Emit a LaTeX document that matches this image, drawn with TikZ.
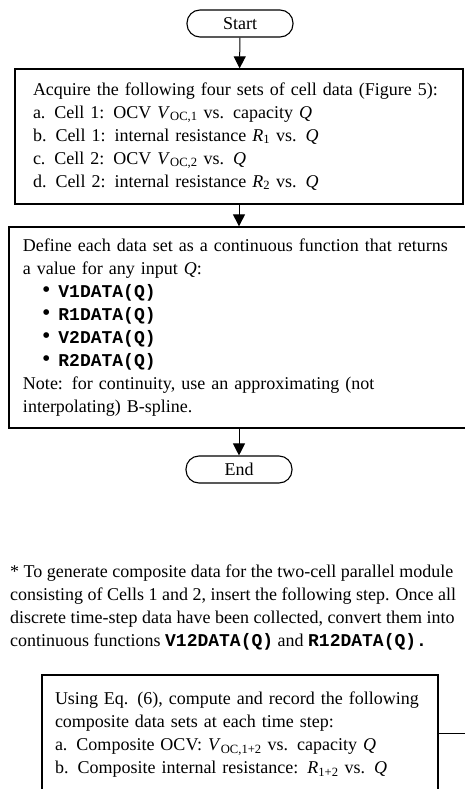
\documentclass[tikz,border=0pt]{standalone}
\usepackage{fontspec}
\setmainfont{Liberation Serif}
\setmonofont{Liberation Mono}
\usetikzlibrary{arrows.meta}
\newcommand{\datafn}[1]{\textbf{\texttt{#1}}}
\newcommand{\bulletfn}[1]{\hspace*{19pt}{\fontsize{24}{23}\selectfont\textbullet}\hspace{8pt}\datafn{#1}}
\newcommand{\cellsym}[2]{\textit{#1}\textsubscript{#2}}

\begin{document}
\begin{tikzpicture}[x=1pt,y=-1pt,
      every node/.style={font=\fontsize{18}{23}\selectfont},
      term/.style={rectangle,draw,line width=1.1pt,rounded corners=13pt,
        minimum width=106pt,minimum height=27pt},
      proc/.style={rectangle,draw,line width=1.3pt,align=left,inner ysep=0pt},
      flow/.style={line width=1pt,-{Triangle[width=12pt,length=12pt]}}]
      \clip (0,0) rectangle (465,789);
      % Flow chart
      \node[term] (start) at (240,23.5) {Start};
      \node[proc,minimum width=448pt,minimum height=135pt,inner xsep=18pt,
        text width=412pt] (acquire) at (239,136.5) {%
        Acquire the following four sets of cell data (Figure 5):\\
        a. Cell 1: OCV \cellsym{V}{OC,1} vs. capacity \textit{Q}\\
        b. Cell 1: internal resistance \cellsym{R}{1} vs. \textit{Q}\\
        c. Cell 2: OCV \cellsym{V}{OC,2} vs. \textit{Q}\\
        d. Cell 2: internal resistance \cellsym{R}{2} vs. \textit{Q}};
      \node[proc,minimum height=201pt,inner xsep=14pt,
        text width=446pt] (define) at (246,327.5) {%
        Define each data set as a continuous function that returns\\
        a value for any input \textit{Q}:\\
        \bulletfn{V1DATA(Q)}\\
        \bulletfn{R1DATA(Q)}\\
        \bulletfn{V2DATA(Q)}\\
        \bulletfn{R2DATA(Q)}\\
        Note: for continuity, use an approximating (not\\
        interpolating) B-spline.};
      \node[term] (end) at (239,469.5) {End};
      \draw[flow] (start) -- (acquire);
      \draw[flow] (acquire.south) -- (acquire.south |- define.north);
      \draw[flow] (acquire.south |- define.south) -- (end);
      % Composite step
      \node[anchor=west,align=left,inner sep=0pt] (note) at (10,607.5) {%
        * To generate composite data for the two-cell parallel module\\
        consisting of Cells 1 and 2, insert the following step. Once all\\
        discrete time-step data have been collected, convert them into\\
        continuous functions \datafn{V12DATA(Q)} and \datafn{R12DATA(Q).}};
      \node[proc,minimum width=396pt,minimum height=120pt,inner xsep=13pt,
        text width=370pt] (compose) at (240,735) {%
        Using Eq. (6), compute and record the following\\
        composite data sets at each time step:\\
        a. Composite OCV: \cellsym{V}{OC,1+2} vs. capacity \textit{Q}\\
        b. Composite internal resistance: \cellsym{R}{1+2} vs. \textit{Q}};
      \coordinate (side) at (480,733);
      \draw[line width=1pt] (compose.east |- side) -- (side);
    \end{tikzpicture}
\end{document}
